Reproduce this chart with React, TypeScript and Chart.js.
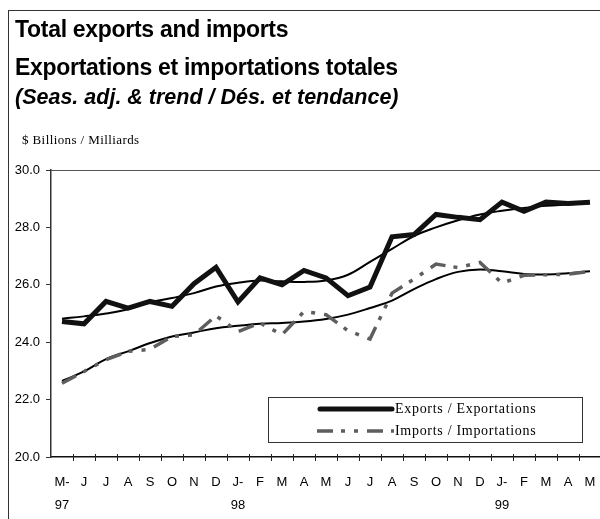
import React, { useEffect, useRef } from 'react';
import { Chart, registerables } from 'chart.js';

Chart.register(...registerables);

const months: (string | string[])[] = [
  ['M-', '97'], 'J', 'J', 'A', 'S', 'O', 'N', 'D', ['J-', '98'], 'F', 'M', 'A', 'M',
  'J', 'J', 'A', 'S', 'O', 'N', 'D', ['J-', '99'], 'F', 'M', 'A', 'M',
];

const exportsSA = [
  24.72, 24.64, 25.42, 25.19, 25.42, 25.25, 26.04, 26.61, 25.4, 26.24, 26.0, 26.5, 26.24,
  25.62, 25.92, 27.67, 27.75, 28.45, 28.35, 28.27, 28.88, 28.56, 28.88, 28.83, 28.88,
];
const exportsTrend = [
  24.82, 24.9, 25.0, 25.15, 25.39, 25.54, 25.71, 25.94, 26.07, 26.15, 26.12, 26.1, 26.15,
  26.35, 26.8, 27.25, 27.7, 28.0, 28.25, 28.45, 28.58, 28.68, 28.75, 28.8, 28.85,
];
const importsSA = [
  22.57, 22.98, 23.39, 23.68, 23.75, 24.2, 24.26, 24.92, 24.37, 24.67, 24.26, 25.07, 24.96,
  24.4, 24.11, 25.71, 26.2, 26.72, 26.6, 26.78, 26.06, 26.33, 26.35, 26.37, 26.47,
];
const importsTrend = [
  22.65, 22.98, 23.41, 23.68, 23.97, 24.2, 24.34, 24.49, 24.57, 24.64, 24.67, 24.72, 24.81,
  24.96, 25.19, 25.45, 25.85, 26.2, 26.45, 26.53, 26.47, 26.38, 26.36, 26.4, 26.47,
];

const yMin = 20;
const yMax = 30;
const yStep = 2;

const titleLines = [
  'Total exports and imports',
  'Exportations et importations totales',
  '(Seas. adj. & trend / Dés. et tendance)',
];
const unitLabel = '$ Billions / Milliards';
const legendLabels = ['Exports / Exportations', 'Imports / Importations'];

const SANS = '"Liberation Sans", Arial, Helvetica, sans-serif';
const SERIF = '"Liberation Serif", "Times New Roman", serif';
const IMPORT_DASH = [16, 8, 4, 9, 4, 9];

const decorPlugin = {
  id: 'decor',
  afterDraw(chart: any) {
    const { ctx, chartArea: a } = chart;
    const xs = chart.scales.x;
    ctx.save();
    // top border of plot area
    ctx.strokeStyle = '#555';
    ctx.lineWidth = 1;
    ctx.beginPath();
    ctx.moveTo(a.left, a.top + 0.5);
    ctx.lineTo(a.right, a.top + 0.5);
    ctx.stroke();
    // category boundary tick marks crossing the x axis
    ctx.strokeStyle = '#222';
    ctx.lineWidth = 1;
    for (let i = 1; i < months.length; i++) {
      const px = Math.round((xs.getPixelForValue(i - 1) + xs.getPixelForValue(i)) / 2) + 0.5;
      ctx.beginPath();
      ctx.moveTo(px, a.bottom - 3);
      ctx.lineTo(px, a.bottom + 4);
      ctx.stroke();
    }
    // legend
    const bx = 268, by = 397, bw = 314, bh = 45;
    ctx.fillStyle = '#fff';
    ctx.fillRect(bx, by, bw, bh);
    ctx.strokeStyle = '#333';
    ctx.lineWidth = 1;
    ctx.strokeRect(bx + 0.5, by + 0.5, bw, bh);

    const rows = [by + 12, by + 34];
    // exports sample
    ctx.strokeStyle = '#111';
    ctx.lineWidth = 5;
    ctx.lineCap = 'round';
    ctx.beginPath();
    ctx.moveTo(320, rows[0]);
    ctx.lineTo(392, rows[0]);
    ctx.stroke();
    // imports sample
    ctx.strokeStyle = '#5e5e5e';
    ctx.lineWidth = 3.5;
    ctx.lineCap = 'butt';
    ctx.setLineDash(IMPORT_DASH);
    ctx.beginPath();
    ctx.moveTo(317, rows[1]);
    ctx.lineTo(394, rows[1]);
    ctx.stroke();
    ctx.setLineDash([]);

    ctx.fillStyle = '#000';
    ctx.font = `14px ${SERIF}`;
    (ctx as any).letterSpacing = '0.7px';
    ctx.textBaseline = 'middle';
    ctx.textAlign = 'left';
    ctx.fillText(legendLabels[0], 395, rows[0]);
    ctx.fillText(legendLabels[1], 395, rows[1]);
    ctx.restore();
  },
};

function ChartCanvas() {
  const ref = useRef<HTMLCanvasElement | null>(null);
  useEffect(() => {
    if (!ref.current) return;
    const chart = new Chart(ref.current, {
      type: 'line',
      data: {
        labels: months as any,
        datasets: [
          {
            label: 'Exports SA',
            data: exportsSA,
            borderColor: '#111',
            borderWidth: 5,
            borderJoinStyle: 'miter',
            tension: 0,
            pointRadius: 0,
          },
          {
            label: 'Imports SA',
            data: importsSA,
            borderColor: '#5e5e5e',
            borderWidth: 3.5,
            borderDash: IMPORT_DASH,
            tension: 0,
            pointRadius: 0,
          },
          {
            label: 'Exports trend',
            data: exportsTrend,
            borderColor: '#000',
            borderWidth: 2,
            tension: 0.4,
            pointRadius: 0,
          },
          {
            label: 'Imports trend',
            data: importsTrend,
            borderColor: '#000',
            borderWidth: 2,
            tension: 0.4,
            pointRadius: 0,
          },
        ],
      },
      options: {
        responsive: false,
        animation: false,
        devicePixelRatio: 1,
        layout: { padding: { top: 170, right: 19, left: 0, bottom: 0 } },
        plugins: { legend: { display: false }, tooltip: { enabled: false }, title: { display: false } },
        scales: {
          x: {
            type: 'category',
            offset: true,
            grid: { display: true, drawOnChartArea: false, drawTicks: false },
            border: { display: true, color: '#111', width: 1.5 },
            ticks: {
              autoSkip: false,
              maxRotation: 0,
              minRotation: 0,
              padding: 13.5,
              color: '#000',
              font: { family: SANS, size: 13, lineHeight: 1.8 },
            },
            afterFit: (s: any) => {
              s.height = 62;
            },
          },
          y: {
            min: yMin,
            max: yMax,
            ticks: {
              stepSize: yStep,
              padding: 6,
              color: '#000',
              font: { family: SANS, size: 13 },
              callback: (v: any) => Number(v).toFixed(1),
            },
            grid: { drawOnChartArea: false, drawTicks: true, tickLength: 5, color: '#333', lineWidth: 1 },
            border: { display: true, color: '#333', width: 1.5 },
            afterFit: (s: any) => {
              s.width = 51;
            },
          },
        },
      },
      plugins: [decorPlugin],
    });
    return () => chart.destroy();
  }, []);
  return (
    <canvas
      ref={ref}
      width={620}
      height={519}
      style={{ position: 'absolute', left: 0, top: 0, width: 620, height: 519 }}
    />
  );
}

export default function App() {
  const t1 = 23;
  const t3 = 21.5;
  const titleBase = {
    position: 'absolute' as const,
    left: 15,
    fontFamily: SANS,
    fontWeight: 'bold' as const,
    whiteSpace: 'nowrap' as const,
    color: '#000',
  };
  return (
    <div
      style={{
        position: 'fixed',
        left: 0,
        top: 0,
        width: 600,
        height: 519,
        overflow: 'hidden',
        background: '#fff',
      }}
    >
      <div
        style={{
          position: 'absolute',
          left: 8,
          top: 10,
          width: 700,
          height: 600,
          borderLeft: '1.5px solid #333',
          borderTop: '1.5px solid #333',
        }}
      />
      <ChartCanvas />
      <div style={{ ...titleBase, top: 17.5, fontSize: t1, lineHeight: `${t1}px`, letterSpacing: '-0.3px' }}>
        {titleLines[0]}
      </div>
      <div style={{ ...titleBase, top: 56, fontSize: t1, lineHeight: `${t1}px`, letterSpacing: '-0.3px' }}>
        {titleLines[1]}
      </div>
      <div style={{ ...titleBase, top: 87, fontStyle: 'italic', fontSize: t3, lineHeight: `${t3}px` }}>
        {titleLines[2]}
      </div>
      <div
        style={{
          position: 'absolute',
          left: 22,
          top: 133,
          fontFamily: SERIF,
          fontSize: 13,
          lineHeight: '13px',
          letterSpacing: '0.4px',
          whiteSpace: 'nowrap',
          color: '#000',
        }}
      >
        {unitLabel}
      </div>
    </div>
  );
}
